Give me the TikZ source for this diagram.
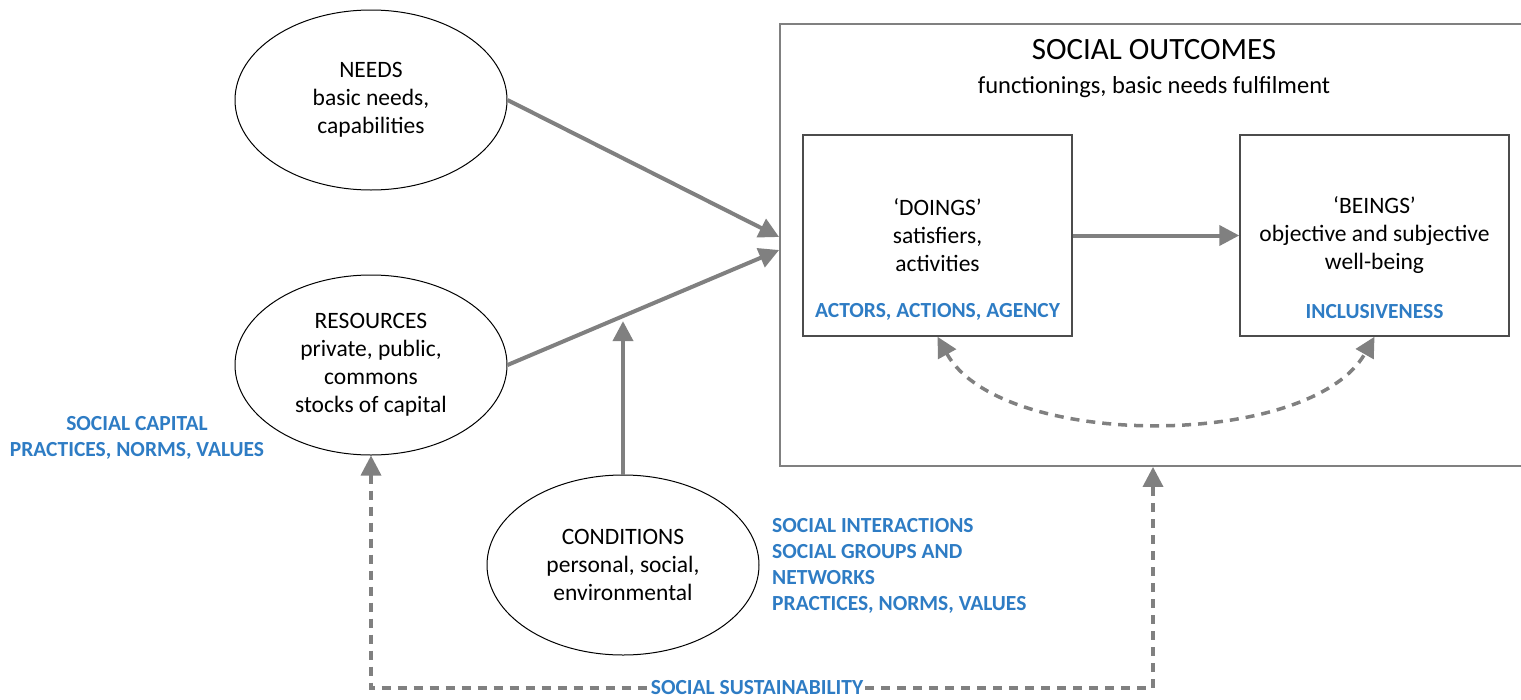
\documentclass[tikz,border=0pt]{standalone}
\usepackage{fontspec}
\setmainfont{Carlito}
\usetikzlibrary{shapes.geometric,arrows.meta}
\definecolor{note blue}{HTML}{2E7CC4}
\colorlet{link gray}{black!50}
\colorlet{box edge}{black!70}
\tikzset{
    x={1pt},
    y={-1pt},
    >={Triangle[length=20pt,width=20pt]},
    body text/.style={
        font={\fontsize{23.5}{28}\selectfont},
        align=center,
    },
    idea ellipse/.style={
        ellipse, draw=black,
        line width={1pt},
        minimum width={272pt},
        minimum height={180pt},
        inner sep=0pt,
        body text,
    },
    outcome box/.style={
        draw=box edge,
        line width={1.5pt},
        minimum width={269pt},
        minimum height={201pt},
        inner sep=0pt,
        body text,
    },
    frame box/.style={
        draw=link gray,
        line width={1.8pt},
        minimum width={746pt},
        minimum height={442pt},
        inner sep=0pt,
    },
    flow link/.style={
        draw=link gray,
        line width={4pt},
        ->,
    },
    feedback link/.style={
        flow link,
        line width={3.5pt},
        dash pattern={on 9pt off 7pt},
    },
    note label/.style={
        font={\fontsize{21.5}{26}\selectfont\bfseries},
        text=note blue,
        inner sep=0pt,
    },
}

\begin{document}
\begin{tikzpicture}
\useasboundingbox (0,0) rectangle (1521,699);
% inputs
\node[idea ellipse] (needs) at (371,100) {NEEDS\\basic needs,\\capabilities};
\node[idea ellipse] (resources) at (371,365) {RESOURCES\\private, public,\\commons\\stocks of capital};
\node[idea ellipse] (conditions) at (623,565) {CONDITIONS\\personal, social,\\environmental};
% outcomes
\node[frame box] (outcomes) at (1153,245) {};
\node[font={\fontsize{31}{36}\selectfont}] (outcomes title) at (1154,50) {SOCIAL OUTCOMES};
\node[font={\fontsize{24.5}{28}\selectfont}] (outcomes sub) at (1154,87) {functionings, basic needs fulfilment};
\node[outcome box] (doings) at (937.5,235.5) {‘DOINGS’\\satisfiers,\\activities};
\node[outcome box] (beings) at (1374.5,235.5) {‘BEINGS’\\objective and subjective\\well-being};
\node[note label] (doings note) at (937.5,312) {ACTORS, ACTIONS, AGENCY};
\node[note label] (beings note) at (1374.5,312) {INCLUSIVENESS};
% notes
\node[note label, align=center] (capital note) at (137,438) {SOCIAL CAPITAL\\PRACTICES, NORMS, VALUES};
\node[note label, align=left, anchor=west] (social note) at (772,566) {SOCIAL INTERACTIONS\\SOCIAL GROUPS AND\\NETWORKS\\PRACTICES, NORMS, VALUES};
\node[note label, fill=white, inner xsep=2pt, inner ysep=1pt] (sustain note) at (757,688) {SOCIAL SUSTAINABILITY};
% links
\draw[flow link] (needs.east) -- ([yshift=8pt]outcomes.west);
\draw[flow link] (resources.east) -- coordinate[pos=0.425] (meet) ([yshift=-5pt]outcomes.west);
\draw[flow link, shorten >=5pt] (conditions.north) -- (conditions.north |- meet);
\draw[flow link] (doings.east) -- (beings.west);
\draw[feedback link, <->] (doings.south) .. controls (1000,450) and (1310,450) .. (beings.south);
\draw[feedback link, <-] (resources.south) |- (sustain note.west);
\draw[feedback link] (sustain note.east) -| (outcomes.south);
\end{tikzpicture}
\end{document}
